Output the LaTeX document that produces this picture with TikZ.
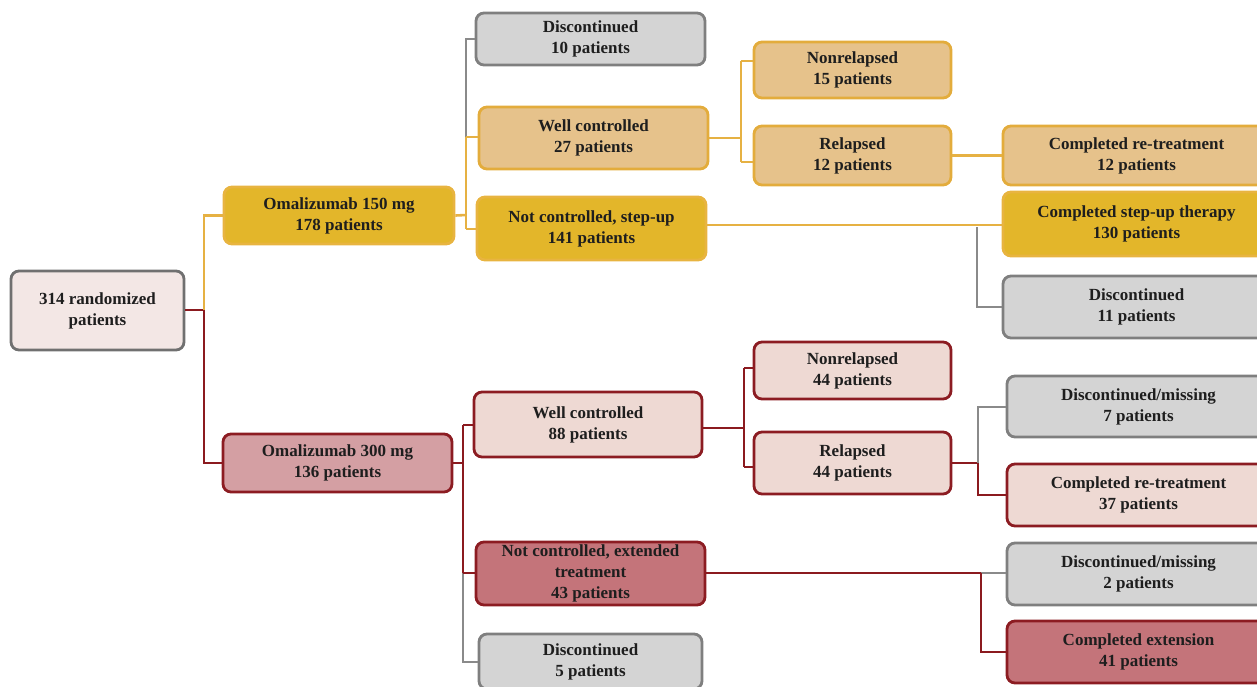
\documentclass[tikz,border=0pt]{standalone}
\usepackage{fontspec}
\setmainfont{Liberation Serif}
\definecolor{grayfill}{HTML}{D4D4D4}
\definecolor{graydraw}{HTML}{7F7F7F}
\definecolor{grayline}{HTML}{8A8A8A}
\definecolor{lofill}{HTML}{E6C28B}
\definecolor{lodraw}{HTML}{E3AC3C}
\definecolor{yline}{HTML}{E6B143}
\definecolor{yfill}{HTML}{E3B62A}
\definecolor{ydraw}{HTML}{E8B440}
\definecolor{rootfill}{HTML}{F3E7E5}
\definecolor{rootdraw}{HTML}{707070}
\definecolor{lpfill}{HTML}{EED9D3}
\definecolor{rdraw}{HTML}{8C1C22}
\definecolor{mpfill}{HTML}{D49FA3}
\definecolor{dpfill}{HTML}{C4747A}
\definecolor{rline}{HTML}{8B1A1F}
\definecolor{txt}{HTML}{1E1E1E}
\tikzset{
  box/.style={rectangle, rounded corners=8pt, line width=2.8pt, inner sep=0pt,
    align=center, font=\fontsize{17}{21}\selectfont\bfseries, text=txt},
  graybox/.style={box, fill=grayfill, draw=graydraw},
  lobox/.style={box, fill=lofill, draw=lodraw},
  ybox/.style={box, fill=yfill, draw=ydraw},
  lpbox/.style={box, fill=lpfill, draw=rdraw},
  mpbox/.style={box, fill=mpfill, draw=rdraw},
  dpbox/.style={box, fill=dpfill, draw=rdraw},
  rootbox/.style={box, fill=rootfill, draw=rootdraw},
  gl/.style={draw=grayline, line width=2.6pt},
  yl/.style={draw=yline, line width=2.6pt},
  rl/.style={draw=rline, line width=2.6pt},
}
\begin{document}
\begin{tikzpicture}[x=1pt, y=-1pt]
\useasboundingbox (0,0) rectangle (1257,686);
\clip (0,0) rectangle (1257,686);
% coordinates
\coordinate (j0) at (204,310);
\coordinate (j1) at (466,215);
\coordinate (j1a) at (466,39);
\coordinate (j1b) at (466,137);
\coordinate (j1c) at (466,229);
\coordinate (j2) at (741,138);
\coordinate (j2a) at (741,61);
\coordinate (j2b) at (741,162);
\coordinate (j3) at (977,225);
\coordinate (j3b) at (977,307);
\coordinate (j4) at (463,463);
\coordinate (j4a) at (463,425);
\coordinate (j4b) at (463,573);
\coordinate (j4c) at (463,662);
\coordinate (j5) at (744,428);
\coordinate (j5a) at (744,368);
\coordinate (j5b) at (744,467);
\coordinate (j6) at (978,463);
\coordinate (j6a) at (978,407);
\coordinate (j6b) at (978,495);
\coordinate (j7) at (981,573);
\coordinate (j7b) at (981,652);

% nodes
\node[rootbox, minimum width=173pt, minimum height=79pt] (root) at (97.5,310.5) {314 randomized\\patients};
\node[ybox, minimum width=230pt, minimum height=57pt] (om150) at (339,215.5) {Omalizumab 150 mg\\178 patients};
\node[mpbox, minimum width=229pt, minimum height=58pt] (om300) at (337.5,463) {Omalizumab 300 mg\\136 patients};
\node[graybox, minimum width=229pt, minimum height=52pt] (d10) at (590.5,39) {Discontinued\\10 patients};
\node[lobox, minimum width=229pt, minimum height=62pt] (wc27) at (593.5,138) {Well controlled\\27 patients};
\node[ybox, minimum width=229pt, minimum height=63pt] (nc141) at (591.5,228.5) {Not controlled, step-up\\141 patients};
\node[lobox, minimum width=197pt, minimum height=56pt] (nr15) at (852.5,70) {Nonrelapsed\\15 patients};
\node[lobox, minimum width=197pt, minimum height=59pt] (rel12) at (852.5,155.5) {Relapsed\\12 patients};
\node[lobox, minimum width=267pt, minimum height=59pt] (crt12) at (1136.5,155.5) {Completed re-treatment\\12 patients};
\node[ybox, minimum width=267pt, minimum height=64pt] (csu130) at (1136.5,224) {Completed step-up therapy\\130 patients};
\node[graybox, minimum width=267pt, minimum height=62pt] (d11) at (1136.5,307) {Discontinued\\11 patients};
\node[lpbox, minimum width=228pt, minimum height=65pt] (wc88) at (588,424.5) {Well controlled\\88 patients};
\node[dpbox, minimum width=229pt, minimum height=63pt] (nce43) at (590.5,573.5) {Not controlled, extended\\treatment\\43 patients};
\node[graybox, minimum width=223pt, minimum height=55pt] (d5) at (590.5,661.5) {Discontinued\\5 patients};
\node[lpbox, minimum width=197pt, minimum height=57pt] (nr44) at (852.5,370.5) {Nonrelapsed\\44 patients};
\node[lpbox, minimum width=197pt, minimum height=62pt] (rel44) at (852.5,463) {Relapsed\\44 patients};
\node[graybox, minimum width=263pt, minimum height=61pt] (dm7) at (1138.5,406.5) {Discontinued/missing\\7 patients};
\node[lpbox, minimum width=263pt, minimum height=62pt] (crt37) at (1138.5,495) {Completed re-treatment\\37 patients};
\node[graybox, minimum width=263pt, minimum height=62pt] (dm2) at (1138.5,574) {Discontinued/missing\\2 patients};
\node[dpbox, minimum width=263pt, minimum height=62pt] (cext41) at (1138.5,652) {Completed extension\\41 patients};

% connectors
\draw[rl] (root.east |- j0) -- (j0);
\draw[yl] (j0) -- (j0 |- om150.west) -- (om150.west);
\draw[rl] (j0) -- (j0 |- om300.west) -- (om300.west);

\draw[yl] (om150.east) -- (j1);
\draw[gl] (j1b) -- (j1a) -- (d10.west |- j1a);
\draw[yl] (j1b) -- (j1c);
\draw[yl] (j1b) -- (wc27.west |- j1b);
\draw[yl] (j1c) -- (nc141.west |- j1c);

\draw[yl] (wc27.east |- j2) -- (j2);
\draw[yl] (j2a) -- (j2b);
\draw[yl] (j2a) -- (nr15.west |- j2a);
\draw[yl] (j2b) -- (rel12.west |- j2b);
\draw[yl] (rel12.east) -- (crt12.west);

\draw[yl] (nc141.east |- j3) -- (csu130.west |- j3);
\draw[gl] (j3) ++(0,2) -- (j3b) -- (d11.west |- j3b);

\draw[rl] (om300.east) -- (j4);
\draw[rl] (j4a) -- (j4b);
\draw[gl] (j4b) -- (j4c) -- (d5.west |- j4c);
\draw[rl] (j4a) -- (wc88.west |- j4a);
\draw[rl] (j4b) -- (nce43.west |- j4b);

\draw[rl] (wc88.east |- j5) -- (j5);
\draw[rl] (j5a) -- (j5b);
\draw[rl] (j5a) -- (nr44.west |- j5a);
\draw[rl] (j5b) -- (rel44.west |- j5b);

\draw[rl] (rel44.east |- j6) -- (j6);
\draw[gl] (j6) -- (j6a) -- (dm7.west |- j6a);
\draw[rl] (j6) -- (j6b) -- (crt37.west |- j6b);

\draw[rl] (nce43.east |- j7) -- (j7);
\draw[gl] (j7) -- (dm2.west |- j7);
\draw[rl] (j7) -- (j7b) -- (cext41.west |- j7b);
\end{tikzpicture}
\end{document}
